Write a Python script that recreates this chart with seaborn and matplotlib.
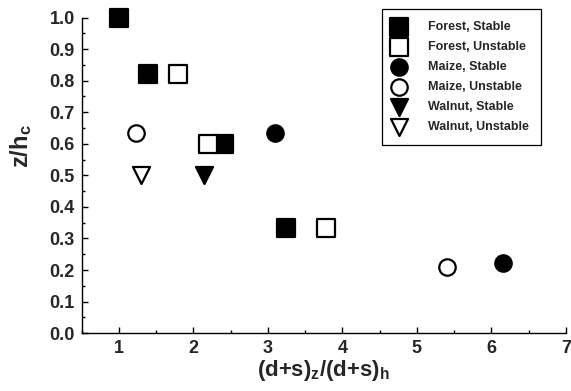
import matplotlib
matplotlib.use("Agg")
import matplotlib.pyplot as plt
from matplotlib.ticker import AutoMinorLocator
import seaborn as sns
import pandas as pd

# ---- data ----
forest_stable_x = [1.0, 1.39, 2.41, 3.24]
forest_stable_y = [1.0, 0.82, 0.60, 0.333]
forest_unstable_x = [1.79, 2.20, 3.78]
forest_unstable_y = [0.82, 0.60, 0.333]
maize_stable_x = [3.10, 6.16]
maize_stable_y = [0.633, 0.222]
maize_unstable_x = [1.23, 5.40]
maize_unstable_y = [0.635, 0.21]
walnut_stable_x = [2.14]
walnut_stable_y = [0.50]
walnut_unstable_x = [1.29]
walnut_unstable_y = [0.50]

series_labels = ["Forest, Stable", "Forest, Unstable", "Maize, Stable",
                 "Maize, Unstable", "Walnut, Stable", "Walnut, Unstable"]
x_ticks = [1, 2, 3, 4, 5, 6, 7]
y_ticks = [0.0, 0.1, 0.2, 0.3, 0.4, 0.5, 0.6, 0.7, 0.8, 0.9, 1.0]

sns.set_theme(style="ticks")
plt.rcParams["font.family"] = ["Liberation Sans", "DejaVu Sans"]
plt.rcParams["mathtext.fontset"] = "custom"
plt.rcParams["mathtext.rm"] = "Liberation Sans:bold"
plt.rcParams["mathtext.bf"] = "Liberation Sans:bold"
plt.rcParams["mathtext.default"] = "rm"

fig = plt.figure(figsize=(5.71, 3.91), dpi=100)
ax = fig.add_axes([0.143, 0.148, 0.848, 0.807])

series = [
    (forest_stable_x, forest_stable_y, "s", True, 169),
    (forest_unstable_x, forest_unstable_y, "s", False, 169),
    (maize_stable_x, maize_stable_y, "o", True, 140),
    (maize_unstable_x, maize_unstable_y, "o", False, 140),
    (walnut_stable_x, walnut_stable_y, "v", True, 150),
    (walnut_unstable_x, walnut_unstable_y, "v", False, 150),
]

for (xs, ys, mk, filled, size), lab in zip(series, series_labels):
    df = pd.DataFrame({"x": xs, "y": ys})
    sns.scatterplot(data=df, x="x", y="y", ax=ax, marker=mk, s=size,
                    color="black" if filled else "white",
                    edgecolor="black", linewidth=1.6, label=lab,
                    clip_on=False, zorder=3)

ax.set_xlim(0.5, 7)
ax.set_ylim(0, 1.0)
ax.set_xticks(x_ticks)
ax.set_yticks(y_ticks)
ax.xaxis.set_minor_locator(AutoMinorLocator(2))
ax.yaxis.set_minor_locator(AutoMinorLocator(2))
ax.set_xticklabels([str(v) for v in x_ticks], fontsize=13, fontweight="bold")
ax.set_yticklabels([f"{v:.1f}" for v in y_ticks], fontsize=13, fontweight="bold")
ax.tick_params(which="both", direction="in", color="black", width=1)
ax.tick_params(which="major", length=4, pad=5)
ax.tick_params(which="minor", length=2.5)

for side in ["top", "right"]:
    ax.spines[side].set_visible(False)
for side in ["left", "bottom"]:
    ax.spines[side].set_color("black")
    ax.spines[side].set_linewidth(1)

ax.set_xlabel(r"(d+s)$_{z}$/(d+s)$_{h}$", fontsize=16, fontweight="bold", labelpad=1)
ax.set_ylabel(r"z/h$_{c}$", fontsize=17, fontweight="bold")
ax.yaxis.set_label_coords(-0.098, 0.593)

leg = ax.legend(loc="upper left", bbox_to_anchor=(0.669, 0.977),
                bbox_transform=fig.transFigure, frameon=True, fancybox=False,
                edgecolor="black", framealpha=1, scatterpoints=1,
                prop={"size": 9, "weight": "bold"}, labelspacing=0.63,
                handletextpad=1.96, borderpad=1.0, handlelength=0.72,
                borderaxespad=0)
leg.get_frame().set_linewidth(0.9)

fig.savefig("out.png", dpi=100)
